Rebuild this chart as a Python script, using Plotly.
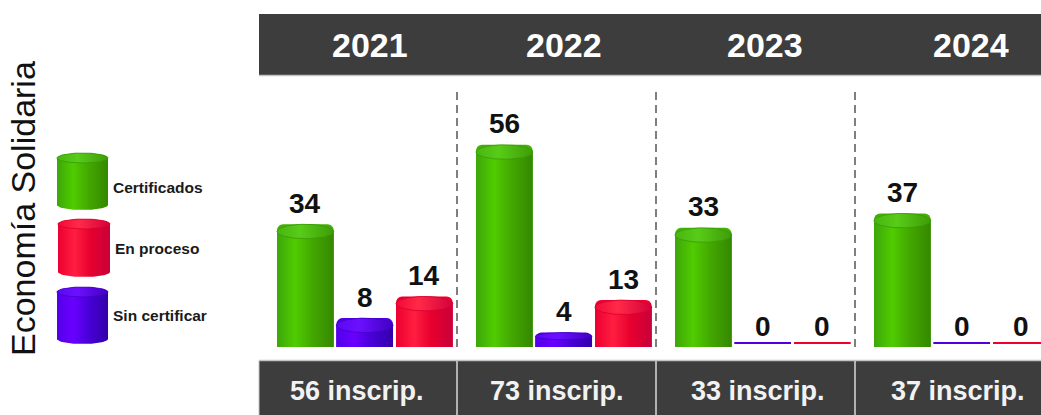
import numpy as np
import plotly.graph_objects as go

# ---------------- data ----------------
years = ["2021", "2022", "2023", "2024"]
certificados = [34, 56, 33, 37]
sin_certificar = [8, 4, 0, 0]
en_proceso = [14, 13, 0, 0]
inscrip_labels = ["56 inscrip.", "73 inscrip.", "33 inscrip.", "37 inscrip."]
side_title = "Economía Solidaria"

series = [
    ("Certificados", certificados, -0.262),
    ("Sin certificar", sin_certificar, 0.036),
    ("En proceso", en_proceso, 0.336),
]
palette = {
    "Certificados": dict(base="#43b005", scale=[[0, "#3da60a"], [0.32, "#50cc00"], [0.62, "#43a800"], [1, "#348800"]],
                         cap=[[0, "#48b512"], [0.4, "#58cc18"], [1, "#3e9c08"]], rim="#3a9a06"),
    "Sin certificar": dict(base="#5000e0", scale=[[0, "#5200ea"], [0.32, "#6a00ff"], [0.62, "#4800d8"], [1, "#3400aa"]],
                           cap=[[0, "#5a08f0"], [0.4, "#6c10ff"], [1, "#4000c0"]], rim="#4200c8"),
    "En proceso": dict(base="#ee0030", scale=[[0, "#ec0030"], [0.32, "#ff1e40"], [0.62, "#e8002e"], [1, "#c8003a"]],
                       cap=[[0, "#f20a36"], [0.4, "#ff2a48"], [1, "#d4003a"]], rim="#d8002e"),
}

W, H = 1041, 415
BAR_W = 0.285
PX_PER_UNIT = 3.61
Y0_PX = 347
y_lo = -(H - Y0_PX) / PX_PER_UNIT
y_hi = Y0_PX / PX_PER_UNIT
SEC_PX = 199.0
X_LEFT_PX = 258.0
x_lo = (0 - X_LEFT_PX) / SEC_PX - 0.5
x_hi = (W - X_LEFT_PX) / SEC_PX - 0.5

FONT = "Liberation Sans, Arial"

fig = go.Figure()


def cyl_polys(xc, half_w, top, bottom, e, n=40, round_bottom=True):
    """Return body outline and top cap ellipse for a cylinder."""
    t1 = np.linspace(np.pi, 0, n)
    if round_bottom:
        t2 = np.linspace(0, -np.pi, n)
        bx = np.concatenate([xc + half_w * np.cos(t1), xc + half_w * np.cos(t2)])
        by = np.concatenate([(top - e) + e * np.sin(t1), (bottom + e) + e * np.sin(t2)])
    else:
        bx = np.concatenate([xc + half_w * np.cos(t1), [xc + half_w, xc - half_w]])
        by = np.concatenate([(top - e) + e * np.sin(t1), [bottom, bottom]])
    bx = np.append(bx, bx[0])
    by = np.append(by, by[0])
    tt = np.linspace(0, 2 * np.pi, 2 * n)
    cx = xc + half_w * np.cos(tt)
    cy = (top - e) + e * np.sin(tt)
    return bx, by, cx, cy


# bar traces (data) + cylinder overlays
for name, vals, off in series:
    xs = [i + off for i in range(len(years))]
    pal = palette[name]
    fig.add_trace(go.Bar(
        x=xs, y=vals, width=BAR_W, name=name,
        marker=dict(color=pal["base"], line=dict(width=0), cornerradius=6),
        showlegend=False, hovertemplate=name + ": %{y}<extra></extra>",
    ))
    for xc, v in zip(xs, vals):
        if v > 0:
            e = min(2.0, v / 4.0)
            bx, by, cx, cy = cyl_polys(xc, BAR_W / 2, v, 0, e, round_bottom=False)
            fig.add_trace(go.Scatter(
                x=bx, y=by, mode="lines", fill="toself", line=dict(width=0, color=pal["base"]),
                fillgradient=dict(type="horizontal", colorscale=pal["scale"]),
                hoverinfo="skip", showlegend=False))
            fig.add_trace(go.Scatter(
                x=cx, y=cy, mode="lines", fill="toself", line=dict(width=0.8, color=pal["rim"]),
                fillgradient=dict(type="horizontal", colorscale=pal["cap"]),
                hoverinfo="skip", showlegend=False))
        else:
            fig.add_trace(go.Scatter(
                x=[xc - BAR_W / 2, xc + BAR_W / 2], y=[v + 1.1, v + 1.1], mode="lines",
                line=dict(width=2, color=pal["base"]), hoverinfo="skip", showlegend=False))
        fig.add_annotation(x=xc, y=v, xref="x", yref="y", text=f"<b>{v}</b>", showarrow=False,
                           yanchor="middle", yshift=21,
                           font=dict(family=FONT, size=28, color="#111111"))

# ---------------- decorations ----------------
def py(p):
    return (H - p) / H

DARK = "#3d3d3d"
# header bar
fig.add_shape(type="rect", xref="paper", yref="paper", x0=259 / W, x1=1, y0=py(75), y1=py(14),
              fillcolor=DARK, line=dict(width=0), layer="below")
fig.add_shape(type="line", xref="paper", yref="paper", x0=259 / W, x1=1, y0=py(75.5), y1=py(75.5),
              line=dict(color="#c4c4c4", width=1.5))
# bottom bar
fig.add_shape(type="rect", xref="paper", yref="paper", x0=259 / W, x1=1, y0=0, y1=py(361),
              fillcolor=DARK, line=dict(width=0), layer="below")
fig.add_shape(type="line", xref="paper", yref="paper", x0=259 / W, x1=1, y0=py(360.5), y1=py(360.5),
              line=dict(color="#c4c4c4", width=1.5))
fig.add_shape(type="line", xref="paper", yref="paper", x0=259 / W, x1=259 / W, y0=0, y1=py(360.5),
              line=dict(color="#c4c4c4", width=1))

for i in range(len(years) - 1):
    # dashed separators in plot area
    fig.add_shape(type="line", xref="x", yref="paper", x0=i + 0.5, x1=i + 0.5, y0=py(347), y1=py(89),
                  line=dict(color="#555555", width=1.5, dash="8px,5px"))
    # white separators in bottom bar
    fig.add_shape(type="line", xref="x", yref="paper", x0=i + 0.5, x1=i + 0.5, y0=0, y1=py(361),
                  line=dict(color="#d8d8d8", width=1.5))

year_shift = [12, 7, 9, 16]
inscrip_shift = [-1, 0, 2, 3]
for i, yr in enumerate(years):
    fig.add_annotation(x=i, xref="x", y=py(45), yref="paper", text=f"<b>{yr}</b>", showarrow=False,
                       xshift=year_shift[i], xanchor="center", yanchor="middle",
                       font=dict(family=FONT, size=34, color="white"))
    fig.add_annotation(x=i, xref="x", y=py(391), yref="paper", text=f"<b>{inscrip_labels[i]}</b>",
                       showarrow=False, xshift=inscrip_shift[i], xanchor="center", yanchor="middle",
                       font=dict(family=FONT, size=27, color="#f2f2f2"))

# side title
fig.add_annotation(x=23 / W, y=py(209), xref="paper", yref="paper", text=side_title, textangle=-90,
                   xanchor="center", yanchor="middle", showarrow=False,
                   font=dict(family=FONT, size=34, color="#111111"))

# manual legend with cylinder icons (pixel-space helper axes)
legend_items = [("Certificados", 57, 108, 153, 210, 187),
                ("En proceso", 58, 110, 219, 277, 248),
                ("Sin certificar", 57, 108, 287, 344, 315)]
for name, x0, x1, y0, y1, ty in legend_items:
    pal = palette[name]
    xc = (x0 + x1) / 2
    hw = (x1 - x0) / 2
    e = 5
    bx, by, cx, cy = cyl_polys(xc, hw, -y0, -y1, e)
    fig.add_trace(go.Scatter(x=bx, y=-by, xaxis="x2", yaxis="y2", mode="lines", fill="toself",
                             line=dict(width=0, color=pal["base"]),
                             fillgradient=dict(type="horizontal", colorscale=pal["scale"]),
                             hoverinfo="skip", showlegend=False))
    fig.add_trace(go.Scatter(x=cx, y=-cy, xaxis="x2", yaxis="y2", mode="lines", fill="toself",
                             line=dict(width=0.8, color=pal["rim"]),
                             fillgradient=dict(type="horizontal", colorscale=pal["cap"]),
                             hoverinfo="skip", showlegend=False))
    fig.add_annotation(x=(x1 + 3) / W, y=py(ty), xref="paper", yref="paper", text=f"<b>{name}</b>",
                       xanchor="left", yanchor="middle", showarrow=False,
                       font=dict(family=FONT, size=15.5, color="#1a1a1a"))

fig.update_layout(
    width=W, height=H, margin=dict(l=0, r=0, t=0, b=0),
    paper_bgcolor="white", plot_bgcolor="white",
    barmode="overlay", showlegend=False,
    xaxis=dict(range=[x_lo, x_hi], domain=[0, 1], visible=False, fixedrange=True),
    yaxis=dict(range=[y_lo, y_hi], domain=[0, 1], visible=False, fixedrange=True),
    xaxis2=dict(range=[0, W], domain=[0, 1], visible=False, overlaying="x", fixedrange=True),
    yaxis2=dict(range=[H, 0], domain=[0, 1], visible=False, overlaying="y", fixedrange=True),
)

fig.write_html("out.html", config={"displayModeBar": False},
               post_script="document.body.style.margin='0';document.body.style.overflow='hidden';")
